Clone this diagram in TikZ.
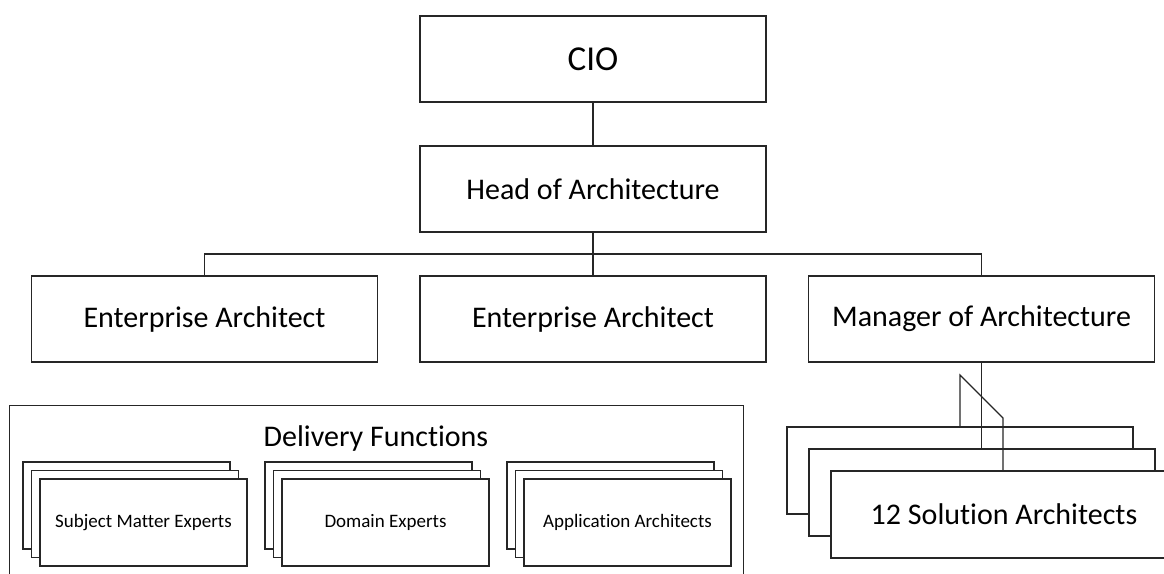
\documentclass[tikz,border=0pt]{standalone}
\usepackage{fontspec}
\setmainfont[Ligatures=NoCommon]{Carlito}
\begin{document}
\begin{tikzpicture}[x=1pt,y=-1pt,
  line width=1.2pt,
  wire/.style={draw=black!85},
  box/.style={draw=black!85, fill=white, rectangle, inner sep=0pt,
    minimum width=346pt, minimum height=86pt, text=black},
  stackbox/.style={draw=black!85, fill=white, rectangle, inner sep=0pt,
    minimum width=207pt, minimum height=87pt, text=black},
  bigtxt/.style={font=\fontsize{35}{40}\selectfont},
  midtxt/.style={font=\fontsize{30}{36}\selectfont},
  smalltxt/.style={font=\fontsize{19}{23}\selectfont},
]
\useasboundingbox (0,0) rectangle (1164,573);
\begin{scope}
\clip (0,0) rectangle (1164,573);

% top of the hierarchy
\node[box, bigtxt] (cio)  at (593,59)  {CIO};
\node[box, midtxt] (head) at (593,189) {Head of Architecture};

% second level
\node[box, midtxt] (ea1) at (204.5,319) {Enterprise Architect};
\node[box, midtxt] (ea2) at (593,319) {Enterprise Architect};
\node[box, midtxt] (mgr) at (981.5,319) {Manager of Architecture};

% delivery functions frame
\node[draw=black!85, rectangle, inner sep=0pt, minimum width=734pt,
  minimum height=200pt, anchor=north west] (df) at (9,405) {};
\node[midtxt] (dft) at (376,438) {Delivery Functions};

% stacked groups inside the frame
\node[stackbox] (sme1) at (126.5,505.5) {};
\node[stackbox] (sme2) at (135,514)   {};
\node[stackbox, smalltxt] (sme3) at (143.5,522.5) {Subject Matter Experts};

\node[stackbox] (dom1) at (368.5,505.5) {};
\node[stackbox] (dom2) at (377,514)   {};
\node[stackbox, smalltxt] (dom3) at (385.5,522.5) {Domain Experts};

\node[stackbox] (app1) at (610.5,505.5) {};
\node[stackbox] (app2) at (619,514)   {};
\node[stackbox, smalltxt] (app3) at (627.5,522.5) {Application Architects};

% solution architects stack
\node[box, minimum height=87pt] (sa1) at (960,470.5) {};
\node[box, minimum height=87pt] (sa2) at (982,492.5) {};
\node[box, minimum height=87pt, midtxt] (sa3) at (1004,514.5) {12 Solution Architects};

% reporting lines
\coordinate (bus) at (0,254);
\draw[wire] (cio.south) -- (head.north);
\draw[wire] (head.south) -- (ea2.north);
\draw[wire] (ea1.north) |- (mgr.north |- bus) -- (mgr.north);

\coordinate (k1) at (960,375);
\coordinate (k2) at (1003,418);
\draw[wire] (mgr.south) -- (mgr.south |- sa2.north);
\draw[wire] (sa1.north -| k1) -- (k1) -- (k2) -- (sa3.north -| k2);
\end{scope}
\end{tikzpicture}
\end{document}
